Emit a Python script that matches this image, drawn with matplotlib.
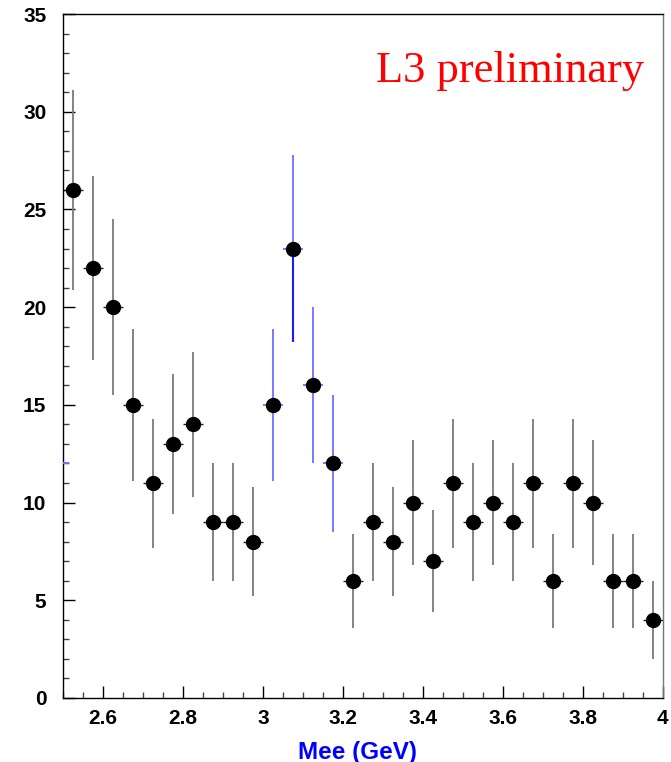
import numpy as np
import matplotlib
matplotlib.use('Agg')
import matplotlib.pyplot as plt
from matplotlib.ticker import MultipleLocator

# histogram bins (GeV), 0.05 wide
bin_centers = [2.525, 2.575, 2.625, 2.675, 2.725, 2.775, 2.825, 2.875, 2.925, 2.975,
               3.025, 3.075, 3.125, 3.175, 3.225, 3.275, 3.325, 3.375, 3.425, 3.475,
               3.525, 3.575, 3.625, 3.675, 3.725, 3.775, 3.825, 3.875, 3.925, 3.975]
counts = [26, 22, 20, 15, 11, 13, 14, 9, 9, 8,
          15, 23, 16, 12, 6, 9, 8, 10, 7, 11,
          9, 10, 9, 11, 6, 11, 10, 6, 6, 4]
errors = [5.1, 4.7, 4.5, 3.9, 3.3, 3.6, 3.7, 3.0, 3.0, 2.8,
          3.9, 4.8, 4.0, 3.5, 2.4, 3.0, 2.8, 3.2, 2.6, 3.3,
          3.0, 3.2, 3.0, 3.3, 2.4, 3.3, 3.2, 2.4, 2.4, 2.0]
signal_bins = [3.025, 3.075, 3.125, 3.175]
half_bin = 0.025
# small blue stub drawn at the left edge of the frame
stub_x = [2.5075]
stub_y = [12]

x = np.array(bin_centers)
y = np.array(counts)
e = np.array(errors)
is_sig = np.isin(x, signal_bins)

fig = plt.figure(figsize=(6.71, 7.62), dpi=100)
ax = fig.add_axes([0.0939, 0.0840, 0.8937, 0.8976])

# background (non-signal) bins: grey vertical, dark horizontal
bg = ~is_sig
ax.errorbar(x[bg], y[bg], yerr=e[bg], fmt='none', ecolor='#7a7a7a', elinewidth=1.3, capsize=0)
ax.errorbar(x[bg], y[bg], xerr=half_bin, fmt='none', ecolor='#222222', elinewidth=1.0, capsize=0)
# J/psi region bins in blue
ax.errorbar(x[is_sig], y[is_sig], yerr=e[is_sig], xerr=half_bin, fmt='none',
            ecolor='#7070ff', elinewidth=1.3, capsize=0)
peak = np.argmax(np.where(is_sig, y, 0))
ax.errorbar([x[peak]], [y[peak]], yerr=[[e[peak]], [0]], fmt='none',
            ecolor='#1a1aff', elinewidth=1.5, capsize=0)
ax.plot(x, y, 'o', color='black', markersize=10, zorder=5)
ax.plot(stub_x, stub_y, marker='_', color='#7070ff', markersize=4.3,
        markeredgewidth=1.5, linestyle='none', zorder=6)

ax.set_xlim(2.5, 4.0)
ax.set_ylim(0, 35)
ax.xaxis.set_major_locator(MultipleLocator(0.2))
ax.xaxis.set_minor_locator(MultipleLocator(0.05))
ax.yaxis.set_major_locator(MultipleLocator(5))
ax.yaxis.set_minor_locator(MultipleLocator(1))
ax.set_xticks([2.6, 2.8, 3.0, 3.2, 3.4, 3.6, 3.8, 4.0])
ax.set_xticklabels(['2.6', '2.8', '3', '3.2', '3.4', '3.6', '3.8', '4'])
ax.tick_params(which='both', direction='in', top=False, right=False,
               labelsize=15, width=1.0, colors='black')
ax.tick_params(which='major', length=8.6)
ax.tick_params(which='minor', length=4.3, color='#444444')
ax.tick_params(axis='y', pad=12)
ax.tick_params(axis='x', pad=8)
for lab in ax.get_xticklabels() + ax.get_yticklabels():
    lab.set_fontweight('bold')
    lab.set_family('Liberation Sans')
for sp in ax.spines.values():
    sp.set_linewidth(1.0)
ax.spines['right'].set_color('#777777')

fig.text(357 / 671, 1 - 752 / 762, 'Mee (GeV)', color='#0000ff', fontsize=17.5,
         fontweight='bold', family='Liberation Sans', ha='center', va='center')
fig.text(376 / 671, 1 - 81.7 / 762, 'L3 preliminary', color='#ff0000', fontsize=32,
         family='Liberation Serif', ha='left', va='baseline')

fig.savefig('out.png', dpi=100)
